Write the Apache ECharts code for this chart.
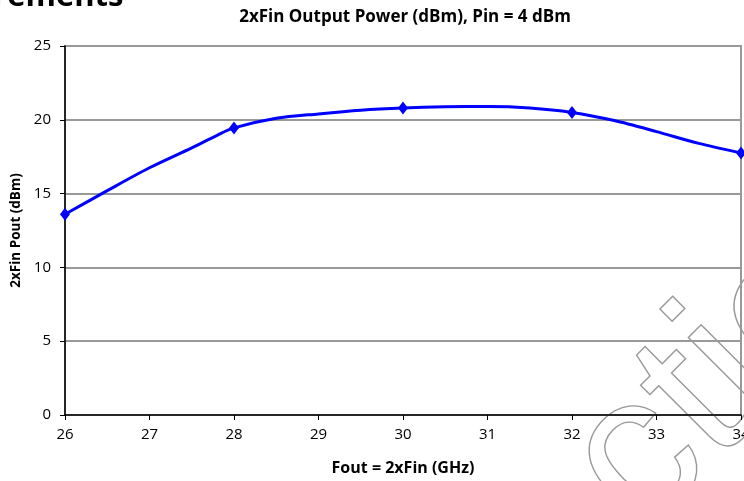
<!DOCTYPE html>
<html><head><meta charset="utf-8">
<script src="https://cdn.jsdelivr.net/npm/echarts@6/dist/echarts.min.js"></script>
<style>html,body{margin:0;padding:0;background:#fff}#c{width:744px;height:481px}</style>
</head><body><div id="c"></div>
<script>
const freqs = [26, 26.5, 27, 27.5, 27.8, 28, 28.5, 29, 29.5, 30, 30.5, 31, 31.5, 32, 32.5, 33, 33.5, 34];
const pout  = [13.6, 15.2, 16.75, 18.1, 18.95, 19.45, 20.1, 20.4, 20.65, 20.8, 20.88, 20.9, 20.8, 20.5, 19.95, 19.2, 18.4, 17.75];
const markerFreqs = [26, 28, 30, 32, 34];
const yTicks = [0, 5, 10, 15, 20, 25];
const xTicks = [26, 27, 28, 29, 30, 31, 32, 33, 34];

const font = '"Open Sans", "Noto Sans", sans-serif';
const data = freqs.map((f, i) => ({
  value: [f, pout[i]],
  symbol: markerFreqs.includes(f) ? 'diamond' : 'none',
  symbolSize: [10, 13]
}));

const chart = echarts.init(document.getElementById('c'));
chart.setOption({
  animation: false,
  title: {
    text: '2xFin Output Power (dBm), Pin = 4 dBm',
    left: 400, top: 4, textAlign: 'center',
    textStyle: {fontFamily: font, fontSize: 17, fontWeight: 'bold', color: '#000'}
  },
  graphic: [
    {type: 'text', left: -109, top: -18, style: {text: 'Measurements', font: 'bold 31px ' + font, fill: '#000'}},
    {type: 'text', x: 530, y: 424, rotation: Math.PI / 4,
      style: {text: 'ction', font: '205px "Liberation Sans", Arial, sans-serif', fill: 'none', stroke: '#999', lineWidth: 1.4}, z: -1}
  ],
  grid: {left: 65, right: 3, top: 46, bottom: 66, containLabel: false, outerBoundsMode: 'none',
    show: true, borderColor: '#999', borderWidth: 2},
  xAxis: {
    type: 'value', min: 26, max: 34, interval: 1,
    name: 'Fout = 2xFin (GHz)', nameLocation: 'middle', nameGap: 45,
    nameTextStyle: {fontFamily: font, fontSize: 16, fontWeight: 'bold', color: '#000'},
    axisLine: {lineStyle: {color: '#000', width: 1.5}},
    axisTick: {show: true, length: 5, lineStyle: {color: '#000'}},
    axisLabel: {fontFamily: font, fontSize: 15, color: '#000', margin: 12,
      formatter: v => xTicks.includes(v) ? String(v) : ''},
    splitLine: {show: false}
  },
  yAxis: {
    type: 'value', min: 0, max: 25, interval: 5,
    name: '2xFin Pout (dBm)', nameLocation: 'middle', nameGap: 40,
    nameTextStyle: {fontFamily: font, fontSize: 13.5, fontWeight: 'bold', color: '#000'},
    axisLine: {show: true, lineStyle: {color: '#000', width: 1.5}},
    axisTick: {show: true, length: 5, lineStyle: {color: '#000'}},
    axisLabel: {fontFamily: font, fontSize: 15, color: '#000', margin: 14,
      formatter: v => yTicks.includes(v) ? String(v) : ''},
    splitLine: {show: true, lineStyle: {color: '#999', width: 2}}
  },
  series: [{
    type: 'line', smooth: 0.3, data: data,
    lineStyle: {color: '#0000ff', width: 3},
    itemStyle: {color: '#0000ff'},
    clip: false
  }]
});
</script></body></html>
